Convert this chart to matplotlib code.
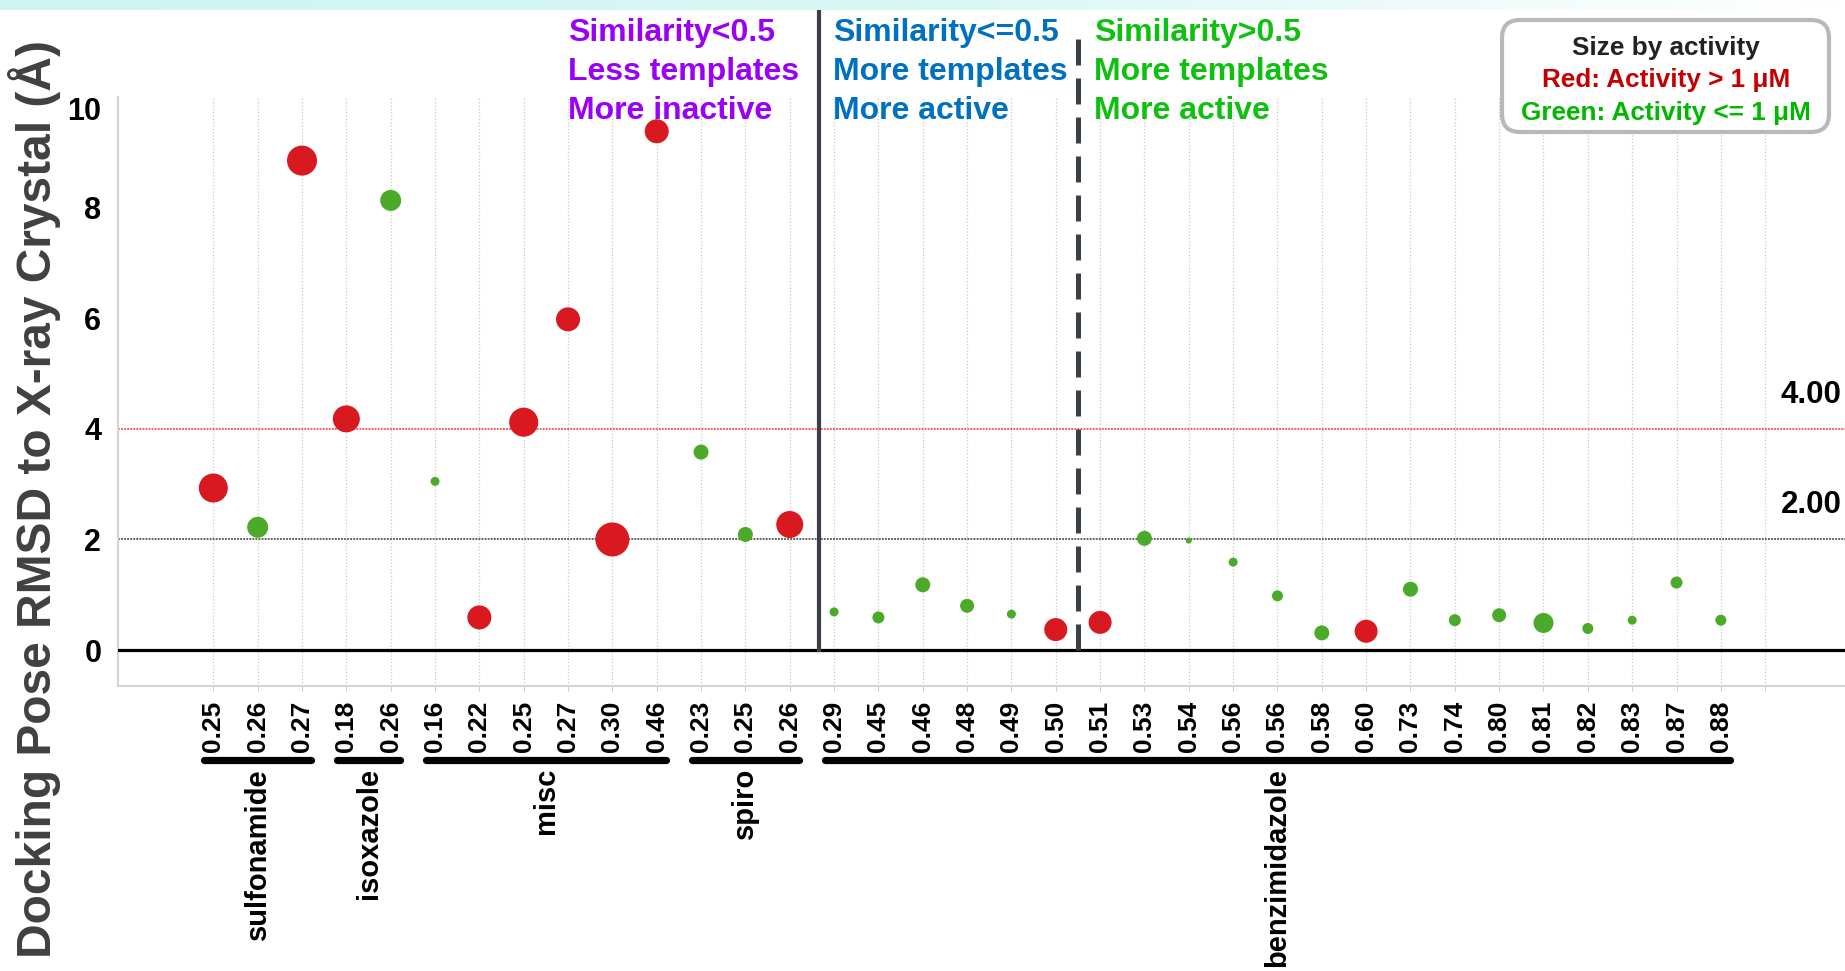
import numpy as np
import matplotlib
matplotlib.use("Agg")
import matplotlib.pyplot as plt
import matplotlib.transforms as mtransforms
from matplotlib import font_manager
from matplotlib.patches import FancyBboxPatch

# ---------------------------------------------------------------------------
# Data: one entry per ligand, ordered by chemotype then template similarity
# ---------------------------------------------------------------------------
similarity = [
    "0.25", "0.26", "0.27",                                   # sulfonamide
    "0.18", "0.26",                                           # isoxazole
    "0.16", "0.22", "0.25", "0.27", "0.30", "0.46",           # misc
    "0.23", "0.25", "0.26",                                   # spiro
    "0.29", "0.45", "0.46", "0.48", "0.49", "0.50", "0.51",   # benzimidazole
    "0.53", "0.54", "0.56", "0.56", "0.58", "0.60", "0.73",
    "0.74", "0.80", "0.81", "0.82", "0.83", "0.87", "0.88",
]
rmsd = [
    2.93, 2.22, 8.85,
    4.18, 8.13,
    3.05, 0.59, 4.12, 5.98, 2.00, 9.38,
    3.58, 2.09, 2.27,
    0.69, 0.59, 1.18, 0.80, 0.65, 0.37, 0.50,
    2.02, 1.98, 1.59, 0.98, 0.31, 0.34, 1.10,
    0.54, 0.63, 0.49, 0.39, 0.54, 1.22, 0.54,
]
# True = activity <= 1 uM (green), False = activity > 1 uM (red)
active = [
    False, True, False,
    False, True,
    True, False, False, False, False, False,
    True, True, False,
    True, True, True, True, True, False, False,
    True, True, True, True, True, False, True,
    True, True, True, True, True, True, True,
]
# relative activity used for the marker size
activity_size = [
    29, 21, 30,
    27, 21,
    9, 24, 29, 24, 34, 24,
    15, 15, 27,
    9, 12, 15, 14, 9, 23, 23,
    15, 6, 9, 11, 15, 23, 15,
    12, 14, 20, 11, 9, 12, 11,
]
groups = ["sulfonamide", "isoxazole", "misc", "spiro", "benzimidazole"]
group_counts = [3, 2, 6, 3, 21]
thresholds = [4.0, 2.0]
threshold_colors = ["#ff2a2a", "#333333"]

RED = "#d8191f"
GREEN = "#4caa2a"
W, H = 1845, 971


def has_font(name):
    try:
        font_manager.findfont(font_manager.FontProperties(family=name),
                              fallback_to_default=False)
        return True
    except ValueError:
        return False


plt.rcParams["font.family"] = "Liberation Sans" if has_font("Liberation Sans") else "DejaVu Sans"

fig = plt.figure(figsize=(W / 100, H / 100), dpi=100)
ax = fig.add_axes([118 / W, 1 - 686 / H, 1 - 118 / W, (686 - 97) / H])

x = np.arange(len(similarity))
colors = [GREEN if a else RED for a in active]
sizes = (np.array(activity_size) * 0.72) ** 2
ax.scatter(x, rmsd, s=sizes, c=colors, linewidths=0, zorder=4)

ax.set_xlim(-2.15, 36.8)
ax.set_ylim(-0.65, 10.0)

# vertical dotted grid, one line per slot plus a trailing empty slot
ax.set_xticks(np.arange(len(similarity) + 1))
ax.set_xticklabels(similarity + [""], rotation=90, fontsize=19, fontweight="bold")
ax.grid(axis="x", color="#c8c8c8", linestyle=":", linewidth=0.9)
ax.set_axisbelow(True)
ax.tick_params(axis="x", length=3.6, color="#cccccc", pad=7)

ax.set_yticks([0, 2, 4, 6, 8, 10])
ax.set_yticklabels(["0", "2", "4", "6", "8", "10"], fontsize=22, fontweight="bold")
ax.tick_params(axis="y", length=0, pad=12)
ax.get_yticklabels()[-1].set_va("top")

for side in ("top", "right"):
    ax.spines[side].set_visible(False)
for side in ("left", "bottom"):
    ax.spines[side].set_color("#d4d4d4")
    ax.spines[side].set_linewidth(1.5)

ax.axhline(0, color="black", linewidth=2.3, zorder=3)
label_tf = mtransforms.blended_transform_factory(fig.transFigure, ax.transData)
for level, col in zip(thresholds, threshold_colors):
    ax.axhline(level, color=col, linestyle=(0, (1.2, 0.8)), linewidth=1.1, zorder=2)
    fig.text(0.998, level + 0.475, f"{level:.2f}", transform=label_tf, ha="right",
             va="baseline", fontsize=22.5, fontweight="bold")

# similarity cut-offs, extended up into the header area
y0, y1 = ax.get_ylim()
y_zero = (0 - y0) / (y1 - y0)
ax.axvline(13.65, ymin=y_zero, ymax=1.145, color="#3b4047", linewidth=3,
           clip_on=False, zorder=3)
ax.axvline(19.5, ymin=y_zero, ymax=1.12, color="#3b4047", linewidth=3.6,
           linestyle=(0, (5.2, 2.6)), clip_on=False, zorder=3)

# chemotype brackets and names under the tick labels
group_tf = mtransforms.blended_transform_factory(ax.transData, fig.transFigure)
start = 0
for name, n in zip(groups, group_counts):
    first, last = start, start + n - 1
    ax.plot([first - 0.2, last + 0.2], [1 - 760 / H] * 2, transform=group_tf,
            color="black", linewidth=5.2, solid_capstyle="round", clip_on=False)
    fig.text((first + last) / 2, 1 - 768 / H, name, transform=group_tf,
             rotation=90, ha="center", va="top", fontsize=21, fontweight="bold")
    start += n

fig.text(35 / W, 1 - 499 / H, "Docking Pose RMSD to X-ray Crystal (Å)", rotation=90,
         ha="center", va="center", fontsize=34.5, fontweight="bold", color="#404040")

# header notes for each similarity region
notes = [
    (568, "#9a00f5", ["Similarity<0.5", "Less templates", "More inactive"]),
    (833, "#0070c0", ["Similarity<=0.5", "More templates", "More active"]),
    (1094, "#10c010", ["Similarity>0.5", "More templates", "More active"]),
]
for left, col, lines in notes:
    for i, line in enumerate(lines):
        fig.text(left / W, 1 - (41.5 + 38.8 * i) / H, line, ha="left", va="baseline",
                 fontsize=23, fontweight="bold", color=col)

box = FancyBboxPatch((1502, H - 132), 327, 112, boxstyle="round,pad=0,rounding_size=18",
                     transform=None, facecolor="white", edgecolor="#b8b8b8", linewidth=3)
fig.patches.append(box)
legend_lines = [("Size by activity", "#222222"),
                ("Red: Activity > 1 μM", "#c40000"),
                ("Green: Activity <= 1 μM", "#00b800")]
for i, (line, col) in enumerate(legend_lines):
    fig.text(1666 / W, 1 - (55 + 32.5 * i) / H, line, ha="center", va="baseline",
             fontsize=18.8, fontweight="bold", color=col)

# faint cyan strip along the top edge
band = fig.add_axes([0, 1 - 10 / H, 1, 10 / H])
grad = np.linspace(0, 1, 256)[None, :]
band.imshow(grad, aspect="auto", cmap=matplotlib.colors.LinearSegmentedColormap.from_list(
    "band", ["#cdf4f2", "#d9f7f5", "#ffffff"]), extent=[0, 1, 0, 1])
band.axis("off")

fig.savefig("out.png", dpi=100)
